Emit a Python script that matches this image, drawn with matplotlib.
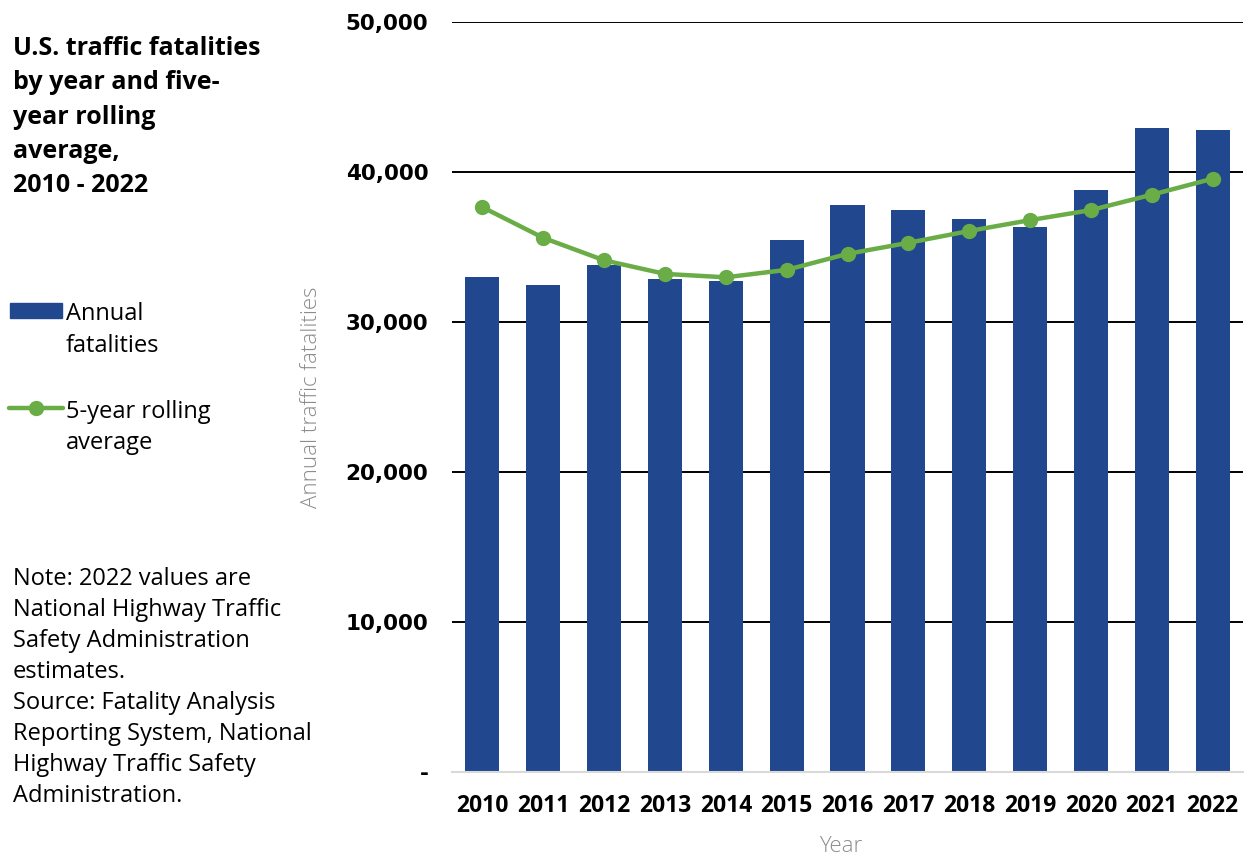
import numpy as np
import matplotlib
matplotlib.use("Agg")
from matplotlib import pyplot as plt
from matplotlib.lines import Line2D
from matplotlib.patches import Rectangle

years = ["2010", "2011", "2012", "2013", "2014", "2015", "2016",
         "2017", "2018", "2019", "2020", "2021", "2022"]
annual = [32999, 32479, 33782, 32893, 32744, 35484, 37806,
          37473, 36835, 36355, 38824, 42939, 42795]
rolling = [37654, 35609, 34113, 33207, 32979, 33476, 34542,
           35280, 36068, 36791, 37459, 38485, 39550]
yticks = [0, 10000, 20000, 30000, 40000, 50000]
ytick_labels = ["-", "10,000", "20,000", "30,000", "40,000", "50,000"]

BLUE = "#21488e"
GREEN = "#6aad47"

plt.rcParams["font.family"] = ["Open Sans", "DejaVu Sans"]

W, H = 1250, 856
fig = plt.figure(figsize=(W / 100, H / 100), dpi=100)
ax = fig.add_axes([452 / W, 1 - 772 / H, 791 / W, 750 / H])

x = np.arange(len(years))
ax.bar(x, annual, width=0.56, color=BLUE, zorder=2)
ax.plot(x, rolling, color=GREEN, lw=3.2, marker="o", ms=10,
        solid_capstyle="round", zorder=3)

ax.set_xlim(-0.5, len(years) - 0.5)
ax.set_ylim(0, 50000)
ax.set_yticks(yticks)
ax.set_yticklabels(ytick_labels, fontfamily="DejaVu Sans", fontweight="bold",
                   fontsize=15.5)
ax.set_xticks(x)
ax.set_xticklabels(years, fontweight="bold", fontsize=16.5)
ax.tick_params(axis="y", length=0, pad=17)
ax.tick_params(axis="x", length=0, pad=16)

for v in yticks[1:]:
    ax.axhline(v, color="black", lw=1.4, zorder=1)

for s in ["top", "right", "left"]:
    ax.spines[s].set_visible(False)
ax.spines["bottom"].set_color("#d9d9d9")
ax.spines["bottom"].set_linewidth(1.5)

ax.set_ylabel("Annual traffic fatalities", color="#8c8c8c", fontsize=16,
              fontweight="light")
ax.yaxis.set_label_coords(-0.164, 0.5)
ax.set_xlabel("Year", color="#8c8c8c", fontsize=16, fontweight="light",
              va="center")
ax.xaxis.set_label_coords(0.491, -0.1)

def fx(px):
    return px / W

def fy(py):
    return 1 - py / H

# title block on the left
fig.text(fx(13), fy(36), "U.S. traffic fatalities\nby year and five-\nyear rolling\naverage,\n2010 - 2022",
         fontsize=18, fontweight="bold", va="top", ha="left",
         linespacing=1.49)

# legend, drawn by hand so the keys line up with the first text line
fig.patches.append(Rectangle((fx(10), fy(318)), fx(52), 15 / H,
                             transform=fig.transFigure, color=BLUE))
fig.text(fx(66), fy(302), "Annual\nfatalities", fontsize=17, va="top",
         ha="left", linespacing=1.44)
fig.lines.append(Line2D([fx(9), fx(63)], [fy(408), fy(408)],
                        transform=fig.transFigure, color=GREEN, lw=3.2,
                        solid_capstyle="round"))
fig.lines.append(Line2D([fx(36)], [fy(408)], transform=fig.transFigure,
                        color=GREEN, marker="o", ms=10))
fig.text(fx(66), fy(400), "5-year rolling\naverage", fontsize=17, va="top",
         ha="left", linespacing=1.4)

fig.text(fx(13), fy(567),
         "Note: 2022 values are\nNational Highway Traffic\nSafety Administration\nestimates.\n"
         "Source: Fatality Analysis\nReporting System, National\nHighway Traffic Safety\nAdministration.",
         fontsize=17, va="top", ha="left", linespacing=1.39)

fig.savefig("out.png", dpi=100)
